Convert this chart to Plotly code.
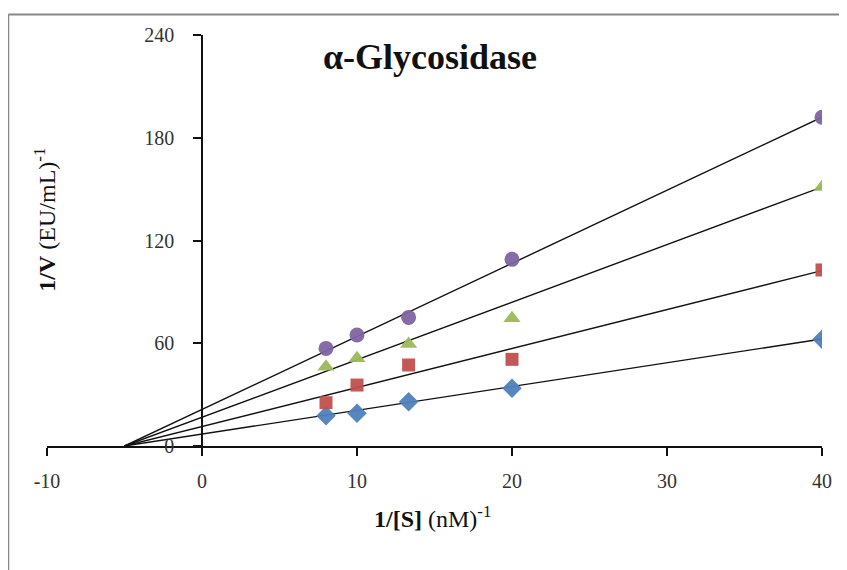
import plotly.graph_objects as go

# ---- data ----
inv_s = [8, 10, 13.33, 20, 40]                      # 1/[S] (nM)^-1
series_names = ["Control", "Inhibitor 1", "Inhibitor 2", "Inhibitor 3"]
blue_v = [17.7, 19.1, 25.9, 33.7, 62.3]
red_v = [25.3, 35.6, 47.3, 50.6, 102.8]
green_v = [46.3, 51.2, 59.6, 74.6, 151.2]
purple_v = [57.0, 64.8, 75.1, 109.0, 192.0]
# fitted trend lines (common x-intercept, slope per series)
x_intercept = -5.0
line_slopes = [1.389, 2.276, 3.36, 4.267]
x_ticks = [-10, 0, 10, 20, 30, 40]
x_tick_labels = ["-10", "0", "10", "20", "30", "40"]
y_ticks = [0, 60, 120, 180, 240]
y_tick_labels = ["0", "60", "120", "180", "240"]

series_values = [blue_v, red_v, green_v, purple_v]
colors = ["#4F81BD", "#C0504D", "#9BBB59", "#8064A2"]
symbols = ["diamond", "square", "triangle-up", "circle"]
sizes = [15, 13, 15, 15]

FONT = "Liberation Serif, Times New Roman, serif"

fig = go.Figure()

# trend lines
x_end = inv_s[-1]
for slope in line_slopes:
    fig.add_trace(go.Scatter(
        x=[x_intercept, x_end],
        y=[0, slope * (x_end - x_intercept)],
        mode="lines", line=dict(color="#111111", width=1.4),
        showlegend=False, hoverinfo="skip"))

# data points
for name, vals, c, s, sz in zip(series_names, series_values, colors, symbols, sizes):
    fig.add_trace(go.Scatter(
        x=inv_s, y=vals, mode="markers", name=name,
        marker=dict(color=c, symbol=s, size=sz, opacity=0.95,
                    line=dict(width=0)),
        showlegend=False))

# page body adds an 8 px offset, so the figure is 8 px smaller than the window
fig.update_layout(
    width=839, height=562,
    margin=dict(l=39, r=25, t=27, b=124),
    plot_bgcolor="white", paper_bgcolor="white",
    font=dict(family=FONT, size=20, color="#222222"),
    showlegend=False,
    xaxis=dict(range=[-10, 40], tickvals=x_ticks, ticktext=x_tick_labels,
               showgrid=False, zeroline=False,
               showline=True, linecolor="#111111", linewidth=1.5,
               ticks="outside", ticklen=8, tickwidth=1.5, tickcolor="#111111",
               ticklabelstandoff=8, anchor="y", position=0,
               tickfont=dict(family=FONT, size=20, color="#333333")),
    yaxis=dict(range=[0, 240], tickvals=y_ticks, ticktext=y_tick_labels,
               showgrid=False, zeroline=False,
               showline=True, linecolor="#111111", linewidth=1.5,
               ticks="outside", ticklen=8, tickwidth=1.5, tickcolor="#111111",
               anchor="free", position=0.2, ticklabelstandoff=15,
               tickfont=dict(family=FONT, size=20, color="#333333")),
)

# outer frame (top and left edge of the chart area)
fig.add_shape(type="line", xref="paper", yref="paper",
              x0=-0.05, x1=1.05, y0=1.05, y1=1.05,
              line=dict(color="#888888", width=2))
fig.add_shape(type="line", xref="paper", yref="paper",
              x0=-0.05, x1=-0.05, y0=1.05, y1=-0.33,
              line=dict(color="#888888", width=2))

# title
fig.add_annotation(text="<b>α-Glycosidase</b>", xref="paper", yref="paper",
                   x=0.494, y=0.946, xanchor="center", yanchor="middle",
                   showarrow=False,
                   font=dict(family=FONT, size=36, color="#111111"))
# axis titles
fig.add_annotation(text="<b>1/[S]</b> (nM)<sup>-1</sup>", xref="paper", yref="paper",
                   x=0.497, y=-0.173, xanchor="center", yanchor="middle",
                   showarrow=False,
                   font=dict(family=FONT, size=24, color="#111111"))
fig.add_annotation(text="<b>1/V</b> (EU/mL)<sup>-1</sup>", xref="paper", yref="paper",
                   x=-0.003, y=0.55, xanchor="center", yanchor="middle",
                   textangle=-90, showarrow=False,
                   font=dict(family=FONT, size=24, color="#111111"))

fig.write_html("out.html")
